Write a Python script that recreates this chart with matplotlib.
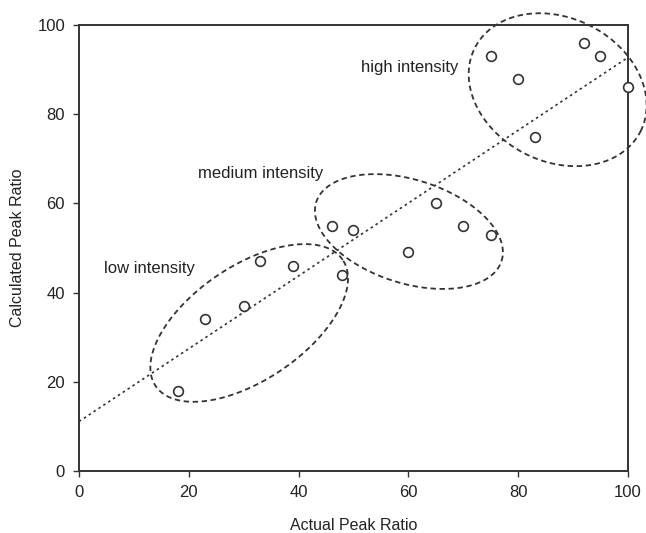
import numpy as np
import matplotlib
matplotlib.use('Agg')
import matplotlib.pyplot as plt

plt.rcParams['font.family'] = ['Liberation Sans', 'DejaVu Sans']

# measured points
actual = [18, 23, 30, 33, 39, 46, 48, 50, 60, 65, 70, 75, 75, 80, 83, 92, 95, 100]
calculated = [18, 34, 37, 47, 46, 55, 44, 54, 49, 60, 55, 53, 93, 88, 75, 96, 93, 86]

# groups: label, label position, ellipse centre, semi-axes (y units), angle (deg on screen)
group_names = ['low intensity', 'medium intensity', 'high intensity']
label_pos = [(4.6, 45.5), (21.7, 66.8), (51.4, 90.5)]
ell_centre = [(31.0, 33.2), (60.1, 53.7), (87.2, 85.5)]
ell_axes = [(25.3, 12.8), (21.8, 11.6), (20.8, 16.1)]
ell_angle = [34, -17.6, -26.6]

ink = '#333333'

fig = plt.figure(figsize=(6.46, 5.33), dpi=100)
ax = fig.add_axes([0.1223, 0.1163, 0.8497, 0.8367])

ax.plot(actual, calculated, 'o', ms=7, mfc='white', mec=ink, mew=1.2, zorder=3, clip_on=False)

# least squares line
slope, icpt = np.polyfit(actual, calculated, 1)
xl = np.array([0, 100])
ax.plot(xl, icpt + slope * xl, ls=(0, (1.5, 2)), color=ink, lw=1.2)

# screen aspect: px per x unit / px per y unit
w_in, h_in = fig.get_size_inches()
pos = ax.get_position()
ratio = (pos.width * w_in) / (pos.height * h_in)

t = np.linspace(0, 2 * np.pi, 300)
for name, lp, c, (a, b), ang in zip(group_names, label_pos, ell_centre, ell_axes, ell_angle):
    th = np.radians(ang)
    u = a * np.cos(t) * np.cos(th) - b * np.sin(t) * np.sin(th)
    v = a * np.cos(t) * np.sin(th) + b * np.sin(t) * np.cos(th)
    ax.plot(c[0] + u / ratio, c[1] + v, ls=(0, (3, 2)), color=ink, lw=1.3, clip_on=False)
    ax.text(lp[0], lp[1], name, fontsize=12, color='#222222', va='center', ha='left')

ax.set_xlim(0, 100)
ax.set_ylim(0, 100)
ax.set_xticks([0, 20, 40, 60, 80, 100])
ax.set_yticks([0, 20, 40, 60, 80, 100])
ax.tick_params(direction='out', length=4, width=1, color=ink, labelsize=12, labelcolor='#222222', pad=6)
for s in ax.spines.values():
    s.set_color(ink)
    s.set_linewidth(1.4)

ax.set_xlabel('Actual Peak Ratio', fontsize=11.5, color='#222222', labelpad=13)
ax.set_ylabel('Calculated Peak Ratio', fontsize=11.5, color='#222222', labelpad=9)

fig.savefig('out.png', dpi=100)
